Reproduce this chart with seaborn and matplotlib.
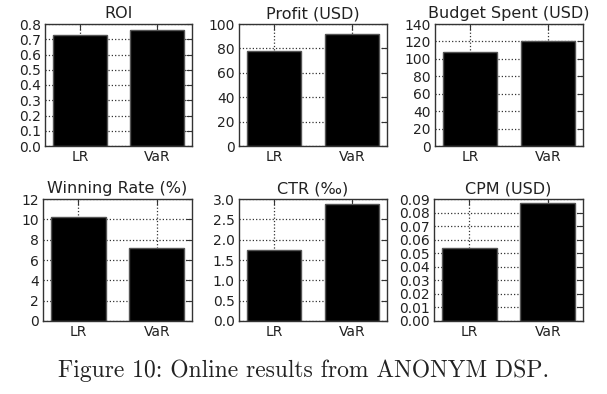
import matplotlib
matplotlib.use('Agg')
import matplotlib.pyplot as plt
import seaborn as sns
import pandas as pd

methods = ['LR', 'VaR']
roi = [0.725, 0.76]
profit = [78, 92]
budget = [108, 121]
win_rate = [10.2, 7.2]
ctr = [1.75, 2.87]
cpm = [0.054, 0.087]

titles = ['ROI', 'Profit (USD)', 'Budget Spent (USD)',
          'Winning Rate (%)', 'CTR (‰)', 'CPM (USD)']
series = [roi, profit, budget, win_rate, ctr, cpm]
ylims = [(0, 0.8), (0, 100), (0, 140), (0, 12), (0, 3.0), (0, 0.09)]
yticks = [
    [0.0, 0.1, 0.2, 0.3, 0.4, 0.5, 0.6, 0.7, 0.8],
    [0, 20, 40, 60, 80, 100],
    [0, 20, 40, 60, 80, 100, 120, 140],
    [0, 2, 4, 6, 8, 10, 12],
    [0.0, 0.5, 1.0, 1.5, 2.0, 2.5, 3.0],
    [0.00, 0.01, 0.02, 0.03, 0.04, 0.05, 0.06, 0.07, 0.08, 0.09],
]
yfmt = ['{:.1f}', '{:.0f}', '{:.0f}', '{:.0f}', '{:.1f}', '{:.2f}']

sns.set_style('white')
plt.rcParams.update({
    'font.family': ['DejaVu Sans'],
    'xtick.direction': 'in',
    'ytick.direction': 'in',
    'xtick.top': True,
    'ytick.right': True,
    'xtick.major.size': 4,
    'ytick.major.size': 4,
    'axes.edgecolor': '#333333',
    'axes.linewidth': 1.0,
})

W, H = 607, 394
fig = plt.figure(figsize=(W / 100, H / 100), dpi=100)
fig.patch.set_facecolor('white')

# axes boxes in pixels: left, top, right, bottom
boxes = [(45, 24, 192, 146), (239, 24, 387, 146), (435, 24, 583, 146),
         (43, 199, 192, 321), (239, 199, 387, 321), (434, 199, 583, 321)]

for i in range(6):
    l, t, r, b = boxes[i]
    ax = fig.add_axes([l / W, 1 - b / H, (r - l) / W, (b - t) / H])
    df = pd.DataFrame({'method': methods, 'value': series[i]})
    sns.barplot(data=df, x='method', y='value', color='black',
                edgecolor='#555555', linewidth=1.0, width=0.7,
                saturation=1, ax=ax, zorder=1)
    ax.set_xlim(-0.45, 1.45)
    ax.set_ylim(*ylims[i])
    ax.set_yticks(yticks[i])
    ax.set_yticklabels([yfmt[i].format(v) for v in yticks[i]])
    ax.grid(True, linestyle=':', color='#333333', linewidth=0.9, zorder=0)
    ax.set_axisbelow(True)
    ax.set_xlabel('')
    ax.set_ylabel('')
    ax.tick_params(labelsize=10, pad=3, color='#333333', labelcolor='#222222')
    ax.set_title(titles[i], fontsize=11.5, pad=4, color='#222222')

fig.text(0.5, 1 - 377 / H, 'Figure 10: Online results from ANONYM DSP.',
         ha='center', va='baseline', fontsize=17, color='#222222',
         family=['cmr10', 'DejaVu Serif'])

fig.savefig('out.png', dpi=100)
